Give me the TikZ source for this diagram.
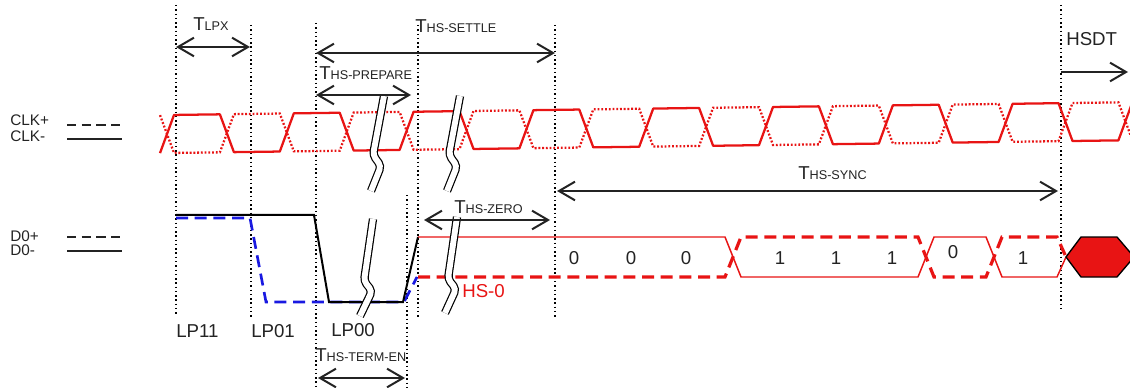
\documentclass[tikz,border=0pt]{standalone}
\usepackage{fontspec}
\setmainfont{Liberation Sans}
\usetikzlibrary{arrows.meta}
\definecolor{sigred}{RGB}{232,20,20}
\definecolor{sigblue}{RGB}{25,25,225}
\definecolor{ink}{RGB}{35,35,35}
\tikzstyle{marker} = [
    black,
    line width=1.1pt,
    dash pattern=on 1.1pt off 2.1pt
]
\tikzstyle{clkp} = [sigred, line width=1.7pt, dash pattern=on 1.4pt off 1.4pt]
\tikzstyle{clkn} = [sigred, line width=1.7pt, line join=round]
\tikzstyle{dpos} = [sigblue, line width=2pt, dash pattern=on 9pt off 5pt]
\tikzstyle{dneg} = [black, line width=1.5pt]
\tikzstyle{hsp} = [sigred, line width=2.4pt, dash pattern=on 9pt off 5pt]
\tikzstyle{hsn} = [sigred, line width=1.1pt]
\tikzstyle{dim} = [
    ink,
    line width=1.5pt,
    <->,
    >={Straight Barb[length=12pt,width=14pt]}
]
\tikzstyle{brk} = [
    black,
    line width=0.9pt,
    double=white,
    double distance=4.4pt,
    rounded corners=3pt
]
\tikzstyle{lbl} = [inner sep=0pt, anchor=base west, ink, font=\fontsize{14}{16}\selectfont]
\tikzstyle{bit} = [inner sep=0pt, ink, font=\fontsize{14}{16}\selectfont]
\tikzstyle{legend} = [inner sep=0pt, anchor=base west, ink, font=\fontsize{11.5}{13}\selectfont]
\tikzstyle{legline} = [ink, line width=1.2pt]
\newcommand{\tname}[1]{T{\fontsize{9.5}{11}\selectfont #1}}

\begin{document}
\begin{tikzpicture}[x=0.75pt, y=-0.75pt,
    declare function={clkx(\k)=167+59.9*\k; hi(\x)=115-0.0133*(\x-170); lo(\x)=153-0.0133*(\x-170);}]
\useasboundingbox (0,0) rectangle (1130,388);

% state boundaries
\draw[marker] (176,5) -- (176,315);
\draw[marker] (251,25) -- (251,317);
\draw[marker] (316,23) -- (316,388);
\draw[marker] (418,25) -- (418,317);
\draw[marker] (407,195) -- (407,388);
\draw[marker] (555,25) -- (555,317);
\draw[marker] (1061,5) -- (1061,310);

% clock lanes
\draw[clkp] (160,{hi(160)})
    \foreach \k in {0,2,...,14} {
        -- ({clkx(\k)+7},{lo(clkx(\k)+7)}) -- ({clkx(\k+1)-7},{lo(clkx(\k+1)-7)})
        -- ({clkx(\k+1)+7},{hi(clkx(\k+1)+7)}) -- ({clkx(\k+2)-7},{hi(clkx(\k+2)-7)})
    }
    -- ({clkx(16)+7},{lo(clkx(16)+7)}) -- (1140,{lo(1140)});
\draw[clkn] (160,{lo(160)})
    \foreach \k in {0,2,...,14} {
        -- ({clkx(\k)+7},{hi(clkx(\k)+7)}) -- ({clkx(\k+1)-7},{hi(clkx(\k+1)-7)})
        -- ({clkx(\k+1)+7},{lo(clkx(\k+1)+7)}) -- ({clkx(\k+2)-7},{lo(clkx(\k+2)-7)})
    }
    -- ({clkx(16)+7},{hi(clkx(16)+7)}) -- (1140,{hi(1140)});

% data lanes
\draw[dpos] (176,218) -- (250,218) -- (266,302) -- (404,302) -- (417,277);
\draw[dneg] (176,215) -- (314,215) -- (329,302) -- (403,302) -- (418,237);
\draw[hsn] (418,237) -- (725,237) -- (741,277) -- (918,277) -- (934,237) -- (986,237)
    -- (1002,277) -- (1057,277) -- (1066,257);
\draw[hsp] (418,277) -- (725,277) -- (741,237) -- (918,237) -- (934,277) -- (986,277)
    -- (1002,237) -- (1057,237) -- (1066,257);
\filldraw[fill=sigred, draw=black, line width=1pt] (1066,257) -- (1081,237) -- (1117,237)
    -- (1134,257) -- (1117,277) -- (1081,277) -- cycle;

\foreach \x/\y/\v [count=\i] in {574/258/0, 631/258/0, 686/258/0, 780/258/1,
        836/258/1, 892/258/1, 953/252/0, 1023/258/1}
    \node[bit] (bit\i) at (\x,\y) {\v};

% time breaks
\draw[brk] (384,96) -- (373,155) -- (381,166) -- (371,191);
\draw[brk] (460,96) -- (449,155) -- (457,166) -- (447,191);
\draw[brk] (373,219) -- (364,281) -- (372,291) -- (360,316);
\draw[brk] (457,217) -- (448,279) -- (456,289) -- (445,313);

% timing arrows
\coordinate (lpxL) at (176,47);     \coordinate (lpxR) at (250,47);
\coordinate (settleL) at (316,53);  \coordinate (settleR) at (555,53);
\coordinate (prepL) at (316,95);    \coordinate (prepR) at (411,95);
\coordinate (zeroL) at (424,220);   \coordinate (zeroR) at (550,220);
\coordinate (syncL) at (557,191);   \coordinate (syncR) at (1058,191);
\coordinate (termL) at (318,378);   \coordinate (termR) at (405,378);
\coordinate (hsdtL) at (1061,72);   \coordinate (hsdtR) at (1128,72);
\draw[dim] (lpxL) -- (lpxR);
\draw[dim] (settleL) -- (settleR);
\draw[dim] (prepL) -- (prepR);
\draw[dim] (zeroL) -- (zeroR);
\draw[dim] (syncL) -- (syncR);
\draw[dim] (termL) -- (termR);
\draw[dim, ->] (hsdtL) -- (hsdtR);

\node[lbl] (tlpx) at (193,31) {\tname{LPX}};
\node[lbl] (tsettle) at (415,33) {\tname{HS-SETTLE}};
\node[lbl] (tprep) at (319,80) {\tname{HS-PREPARE}};
\node[lbl] (tzero) at (454,214) {\tname{HS-ZERO}};
\node[lbl] (tsync) at (798,180) {\tname{HS-SYNC}};
\node[lbl] (tterm) at (315,361) {\tname{HS-TERM-EN}};
\node[lbl] (hsdt) at (1066,46) {HSDT};
\node[lbl, sigred] (hszero) at (462,297) {HS-0};

\node[lbl] (lp11) at (176,337) {LP11};
\node[lbl] (lp01) at (251,337) {LP01};
\node[lbl] (lp00) at (331,336) {LP00};

% legend
\node[legend] (clkplus) at (10,126) {CLK+};
\node[legend] (clkminus) at (10,142) {CLK-};
\node[legend] (dplus) at (10,241) {D0+};
\node[legend] (dminus) at (10,255) {D0-};
\draw[legline, dash pattern=on 7pt off 4pt] (67,125) -- (122,125);
\draw[legline] (67,139) -- (122,139);
\draw[legline, dash pattern=on 7pt off 4pt] (67,237) -- (122,237);
\draw[legline] (67,251) -- (122,251);

\end{tikzpicture}
\end{document}
